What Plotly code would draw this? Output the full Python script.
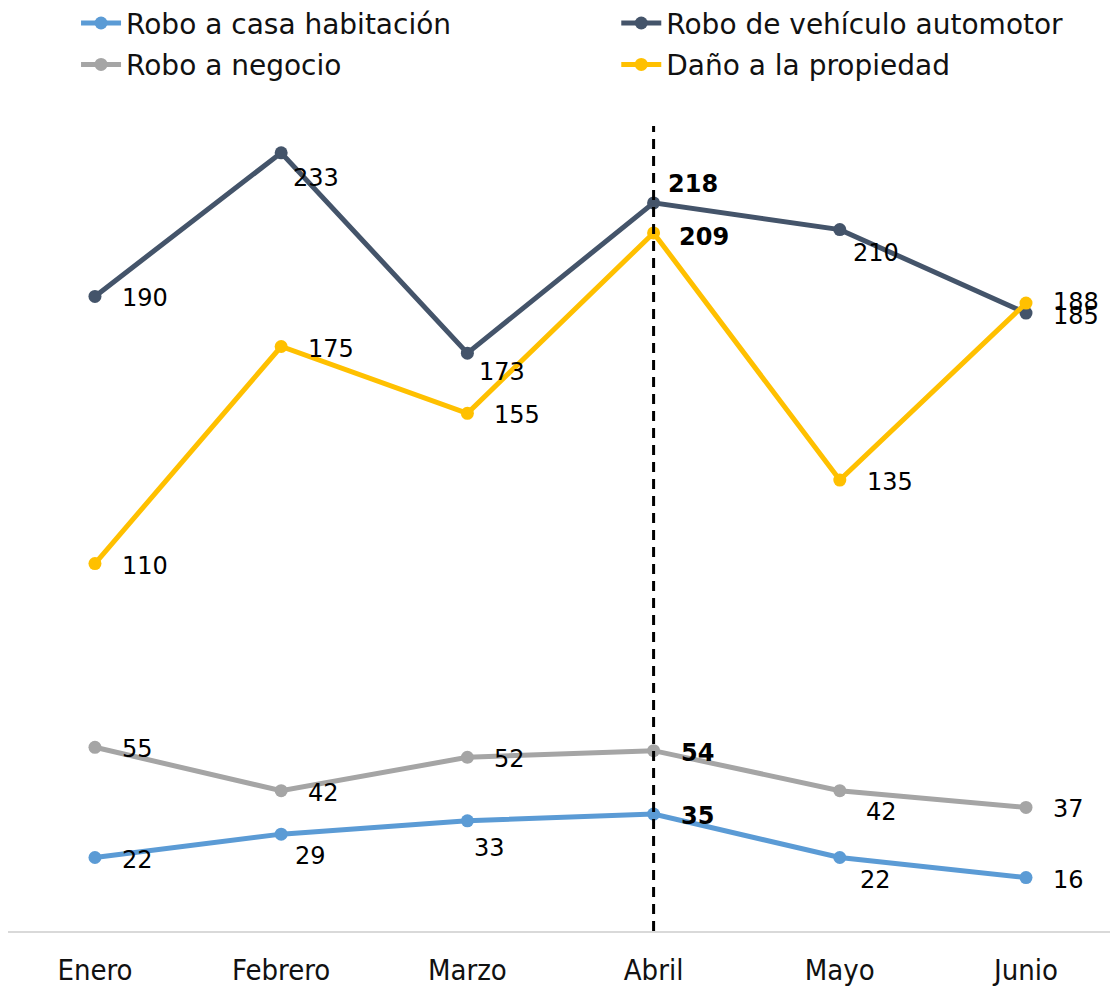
import plotly.graph_objects as go

meses = ["Enero", "Febrero", "Marzo", "Abril", "Mayo", "Junio"]
casa_habitacion = [22, 29, 33, 35, 22, 16]
vehiculo = [190, 233, 173, 218, 210, 185]
negocio = [55, 42, 52, 54, 42, 37]
dano = [110, 175, 155, 209, 135, 188]

mes_destacado = "Abril"

# label offsets (xshift, yshift) in pixels, style only
R = (25, -2)
series = [
    ("Robo a casa habitación", casa_habitacion, "#5B9BD5",
     [R, (12, -22), (5, -27), R, (18, -22), R], "legend"),
    ("Robo de vehículo automotor", vehiculo, "#44546A",
     [R, (10, -25), (10, -19), (12, 19), (11, -23), (25, -3)], "legend2"),
    ("Robo a negocio", negocio, "#A5A5A5",
     [R, R, R, R, (24, -21), R], "legend"),
    ("Daño a la propiedad", dano, "#FFC000",
     [R, R, R, (23, -4), R, (25, 1)], "legend2"),
]

FONT = "DejaVu Sans"

fig = go.Figure()
annotations = []
for name, vals, color, offs, leg in series:
    fig.add_trace(go.Scatter(
        x=meses, y=vals, name=name, mode="lines+markers",
        line=dict(color=color, width=5),
        marker=dict(color=color, size=13),
        legend=leg, legendgroup=name,
    ))
    for m, v, (dx, dy) in zip(meses, vals, offs):
        txt = f"<b>{v}</b>" if m == mes_destacado else str(v)
        annotations.append(dict(
            x=m, y=v, xref="x", yref="y", text=txt, showarrow=False,
            xanchor="left", yanchor="middle", xshift=dx, yshift=dy,
            font=dict(family=FONT, size=24, color="#000000"),
        ))

idx = meses.index(mes_destacado)
fig.add_shape(type="line", xref="x", yref="y", x0=idx, x1=idx, y0=0, y1=241,
              line=dict(color="black", width=3, dash="10px,7px"))

leg_common = dict(orientation="v", yref="paper", y=1.117, yanchor="top",
                  xref="container", xanchor="left",
                  font=dict(family=FONT, size=28, color="#111111"),
                  traceorder="grouped", tracegroupgap=2, itemwidth=40,
                  bgcolor="rgba(0,0,0,0)")

fig.update_layout(
    width=1110, height=979,
    margin=dict(l=0, r=0, t=88, b=56, autoexpand=False),
    paper_bgcolor="white", plot_bgcolor="white",
    showlegend=True,
    legend=dict(x=0.0613, **leg_common),
    legend2=dict(x=0.548, **leg_common),
    annotations=annotations,
    xaxis=dict(showgrid=False, showline=True, linecolor="#D9D9D9", linewidth=2,
               ticks="", ticklabelstandoff=12,
               tickfont=dict(family="Liberation Sans Narrow, DejaVu Sans Condensed, Roboto", size=29, color="#111111"),
               range=[-0.467, 5.494], fixedrange=True),
    yaxis=dict(range=[0, 250], showgrid=False, showline=False, showticklabels=False,
               zeroline=False, ticks=""),
)

fig.write_html("out.html")
